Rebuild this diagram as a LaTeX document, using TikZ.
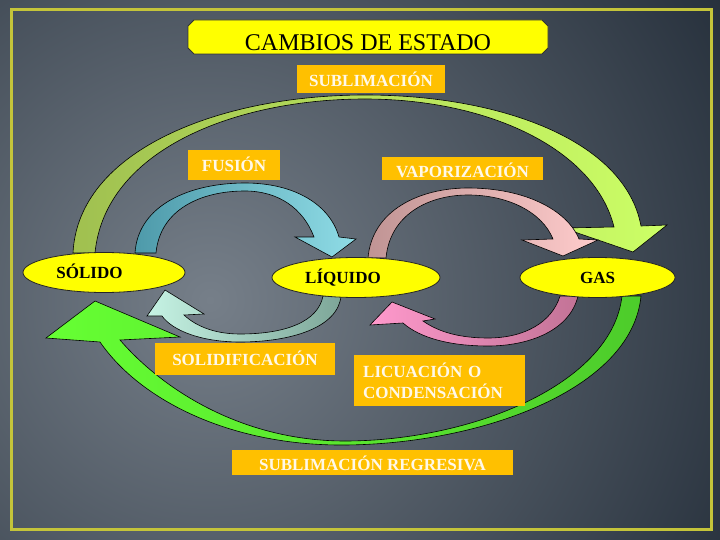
\documentclass[tikz,border=0pt]{standalone}
\usepackage{fontspec}
\setmainfont{Liberation Serif}
\usetikzlibrary{shapes.geometric}
\definecolor{bgin}{HTML}{767F89}
\definecolor{bgout}{HTML}{16202C}
\definecolor{framecol}{HTML}{C4C43A}
\definecolor{yel}{HTML}{FFFF00}
\definecolor{boxorange}{HTML}{FFC000}
\definecolor{labtext}{HTML}{FFF8E8}
\definecolor{aAl}{HTML}{A0C050}\definecolor{aAr}{HTML}{CCFF66}
\definecolor{aBl}{HTML}{4E9AAA}\definecolor{aBr}{HTML}{8FDCE6}
\definecolor{aCl}{HTML}{C09494}\definecolor{aCr}{HTML}{FFCCCC}
\definecolor{aDl}{HTML}{C6F3E4}\definecolor{aDr}{HTML}{7DA698}
\definecolor{aEl}{HTML}{FF99CC}\definecolor{aEr}{HTML}{C27396}
\definecolor{aFl}{HTML}{66FF33}\definecolor{aFr}{HTML}{4DCC2B}
\tikzset{
  blockarrow/.style={draw=black, line width=0.6pt},
  statenode/.style={ellipse, fill=yel, draw=black!85, line width=0.8pt, inner sep=0pt,
    minimum height=40pt, font=\bfseries\fontsize{17pt}{20pt}\selectfont, anchor=base,
    text height=11pt, text depth=0pt},
  labelbox/.style={fill=boxorange, text=labtext, inner sep=0pt, anchor=base,
    font=\bfseries\fontsize{17pt}{20pt}\selectfont},
  titleshape/.style={fill=yel, draw=black!80, line width=0.8pt},
  titletext/.style={anchor=base, inner sep=0pt, font=\fontsize{24pt}{26pt}\selectfont}
}
\begin{document}
\begin{tikzpicture}[x=1pt,y=-1pt]
\useasboundingbox (0,0) rectangle (720,540);
% background
\begin{scope}
\clip (0,0) rectangle (720,540);
\shade[inner color=bgin, outer color=bgout] (210,300) circle (720pt);
\end{scope}
\draw[framecol, line width=3pt] (11,10) rectangle (711,529);

% arrow: sublimacion (top, green)
\shadedraw[blockarrow, left color=aAl, right color=aAr]
 (73,253) .. controls (78,150) and (220,95) .. (365,95) .. controls (500,95) and (625,140) .. (641,226)
 -- (667,225) -- (633,252) -- (563,228) -- (614,227)
 .. controls (595,150) and (490,99) .. (365,99) .. controls (235,99) and (105,150) .. (95,253) -- cycle;
% arrow: fusion (cyan)
\shadedraw[blockarrow, left color=aBl, right color=aBr]
 (135,253) .. controls (138,205) and (190,183) .. (245,183) .. controls (295,183) and (330,205) .. (339,237)
 -- (356,239) -- (332,257) -- (295,237) -- (314,237)
 .. controls (303,208) and (278,191) .. (245,191) .. controls (200,191) and (160,210) .. (156,253) -- cycle;
% arrow: vaporizacion (pink)
\shadedraw[blockarrow, left color=aCl, right color=aCr]
 (368,258) .. controls (372,210) and (420,188) .. (468,188) .. controls (525,188) and (567,210) .. (579,239)
 -- (598,240) -- (563,256) -- (522,240) -- (553,239)
 .. controls (542,212) and (508,195) .. (468,195) .. controls (428,195) and (390,215) .. (386,258) -- cycle;
% arrow: solidificacion (mint)
\shadedraw[blockarrow, left color=aDl, right color=aDr]
 (341,296) .. controls (338,328) and (290,342) .. (240,342) .. controls (200,342) and (172,330) .. (162,316)
 -- (147,316) -- (165,290) -- (204,314) -- (184,315)
 .. controls (198,328) and (218,334) .. (240,334) .. controls (285,334) and (318,322) .. (323,296) -- cycle;
% arrow: licuacion (pink)
\shadedraw[blockarrow, left color=aEl, right color=aEr]
 (578,296) .. controls (570,330) and (530,346) .. (488,346) .. controls (450,346) and (420,338) .. (403,323)
 -- (370,325) -- (392,302) -- (435,319) -- (423,321)
 .. controls (440,333) and (462,338) .. (488,338) .. controls (525,338) and (552,322) .. (560,296) -- cycle;
% arrow: sublimacion regresiva (green)
\shadedraw[blockarrow, left color=aFl, right color=aFr]
 (641,296) .. controls (632,390) and (480,444) .. (345,445) .. controls (230,446) and (140,400) .. (100,342)
 -- (46,338) -- (95,301) -- (180,337) -- (120,340)
 .. controls (165,392) and (245,441) .. (345,441) .. controls (470,441) and (612,385) .. (622,296) -- cycle;

% states
\node[statenode, minimum width=162pt] (solido) at (104,278) {SÓLIDO\hspace*{29pt}};
\node[statenode, minimum width=168pt] (liquido) at (356,283) {LÍQUIDO\hspace*{26pt}};
\node[statenode, minimum width=155pt] (gas) at (597.5,283) {GAS};

% labels
\node[labelbox, minimum width=148pt, text height=22pt, text depth=6pt] (sub) at (371,87) {SUBLIMACIÓN};
\node[labelbox, minimum width=92pt, text height=22pt, text depth=8pt] (fus) at (234,172) {FUSIÓN};
\node[labelbox, minimum width=161pt, text height=21pt, text depth=2pt] (vap) at (462.5,178) {VAPORIZACIÓN};
\node[labelbox, minimum width=180pt, text height=22pt, text depth=10pt] (sol) at (245,365) {SOLIDIFICACIÓN};
\node[labelbox, anchor=north west, minimum width=171pt, minimum height=51pt, text width=153pt,
      inner xsep=9pt, align=left, font=\bfseries\fontsize{17pt}{21pt}\selectfont] (lic) at (354,355)
      {LICUACIÓN O\\CONDENSACIÓN};
\node[labelbox, minimum width=281pt, text height=20pt, text depth=5pt] (subr) at (372.5,470) {SUBLIMACIÓN REGRESIVA};

% title
\draw[titleshape] (194,20) -- (542,20) -- (548,26) -- (548,48) -- (542,54) -- (194,54) -- (188,48) -- (188,26) -- cycle;
\node[titletext] (title) at (368,51) {CAMBIOS DE ESTADO};
\end{tikzpicture}
\end{document}
